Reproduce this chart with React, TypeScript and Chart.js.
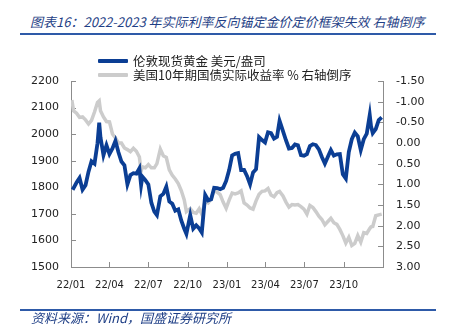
import React, { useEffect, useRef } from "react";
import { Chart, registerables } from "chart.js";

Chart.register(...registerables);

// ---- data ----
const dates: string[] = [
  "2022-01-03", "2022-01-07", "2022-01-14", "2022-01-21", "2022-01-28", "2022-02-04", "2022-02-11", "2022-02-18",
  "2022-02-25", "2022-03-04", "2022-03-08", "2022-03-11", "2022-03-18", "2022-03-25", "2022-04-01", "2022-04-08",
  "2022-04-15", "2022-04-22", "2022-04-29", "2022-05-06", "2022-05-13", "2022-05-20", "2022-05-27", "2022-06-03",
  "2022-06-10", "2022-06-14", "2022-06-17", "2022-06-24", "2022-07-01", "2022-07-08", "2022-07-15", "2022-07-21",
  "2022-07-29", "2022-08-05", "2022-08-12", "2022-08-19", "2022-08-26", "2022-09-02", "2022-09-09", "2022-09-16",
  "2022-09-23", "2022-09-28", "2022-10-07", "2022-10-14", "2022-10-21", "2022-10-28", "2022-11-03", "2022-11-11",
  "2022-11-18", "2022-11-25", "2022-12-02", "2022-12-09", "2022-12-16", "2022-12-23", "2022-12-30",
  "2023-01-06", "2023-01-13", "2023-01-20", "2023-01-27", "2023-02-03", "2023-02-10", "2023-02-17", "2023-02-24",
  "2023-03-03", "2023-03-10", "2023-03-17", "2023-03-24", "2023-03-31", "2023-04-07", "2023-04-14", "2023-04-21",
  "2023-04-28", "2023-05-04", "2023-05-12", "2023-05-19", "2023-05-26", "2023-06-02", "2023-06-09", "2023-06-16",
  "2023-06-23", "2023-06-30", "2023-07-07", "2023-07-14", "2023-07-21", "2023-07-28", "2023-08-04", "2023-08-11",
  "2023-08-18", "2023-08-25", "2023-09-01", "2023-09-08", "2023-09-15", "2023-09-22", "2023-09-29", "2023-10-06",
  "2023-10-13", "2023-10-20", "2023-10-27", "2023-11-03", "2023-11-10", "2023-11-17", "2023-11-24", "2023-12-01",
  "2023-12-04", "2023-12-08", "2023-12-15", "2023-12-22", "2023-12-29",
];

// London spot gold, USD/oz
const goldPrice: number[] = [
  1801, 1797, 1818, 1835, 1791, 1808, 1859, 1898,
  1889, 1966, 2043, 1988, 1921, 1958, 1925, 1946,
  1975, 1932, 1897, 1883, 1811, 1846, 1853, 1851,
  1871, 1808, 1840, 1827, 1811, 1742, 1708, 1695,
  1766, 1775, 1802, 1747, 1738, 1712, 1717, 1675,
  1644, 1625, 1695, 1644, 1657, 1645, 1630, 1771,
  1751, 1755, 1798, 1797, 1793, 1798, 1824,
  1865, 1920, 1926, 1929, 1865, 1865, 1842, 1811,
  1856, 1868, 1989, 1978, 1969, 2007, 2004, 1983,
  1990, 2050, 2011, 1977, 1946, 1948, 1961, 1958,
  1921, 1919, 1925, 1955, 1962, 1959, 1943, 1914,
  1889, 1915, 1940, 1919, 1924, 1925, 1849, 1833,
  1933, 1981, 2006, 1992, 1940, 1981, 2002, 2072,
  2030, 2004, 2019, 2053, 2063,
];

// US 10Y TIPS real yield, % (right axis, reversed)
const realYield: number[] = [
  -1.04, -0.78, -0.72, -0.62, -0.63, -0.56, -0.46, -0.55,
  -0.75, -0.98, -1.02, -0.78, -0.63, -0.52, -0.51, -0.22,
  -0.12, 0.0, 0.0, 0.12, 0.16, 0.21, 0.13, 0.2,
  0.34, 0.68, 0.58, 0.6, 0.52, 0.6, 0.6, 0.5,
  0.15, 0.31, 0.35, 0.65, 0.78, 0.87, 0.98, 1.15,
  1.38, 1.66, 1.59, 1.68, 1.7, 1.59, 1.72, 1.41,
  1.45, 1.35, 1.14, 1.19, 1.25, 1.43, 1.58,
  1.38, 1.21, 1.23, 1.21, 1.16, 1.45, 1.5, 1.57,
  1.6, 1.4, 1.24, 1.17, 1.16, 1.1, 1.26, 1.3,
  1.2, 1.17, 1.28, 1.43, 1.55, 1.49, 1.5, 1.49,
  1.54, 1.6, 1.72, 1.51, 1.56, 1.66, 1.77, 1.85,
  1.98, 1.9, 1.82, 1.93, 1.97, 2.09, 2.24, 2.42,
  2.28, 2.48, 2.43, 2.24, 2.4, 2.17, 2.19, 2.07,
  2.03, 2.02, 1.76, 1.74, 1.72,
];

const xTickDates: string[] = [
  "2022-01-01", "2022-04-01", "2022-07-01", "2022-10-01",
  "2023-01-01", "2023-04-01", "2023-07-01", "2023-10-01", "2024-01-01",
];
const xTickLabels: string[] = ["22/01", "22/04", "22/07", "22/10", "23/01", "23/04", "23/07", "23/10", ""];

const goldLabel = "伦敦现货黄金 美元/盎司";
const yieldLabel = "美国10年期国债实际收益率 % 右轴倒序";
const titleText = "图表16：2022-2023 年实际利率反向锚定金价定价框架失效 右轴倒序";
const sourceText = "资料来源：Wind，国盛证券研究所";

// ---- helpers ----
const ORIGIN = Date.UTC(2022, 0, 1);
const dayOf = (s: string) => {
  const [y, m, d] = s.split("-").map(Number);
  return (Date.UTC(y, m - 1, d) - ORIGIN) / 86400000;
};

const GOLD = "#0B3E94";
const GREY = "#CCCCCC";
const AXIS = "#8C8C8C";
const BLUE_TEXT = "#1F3F86";
const RULE = "#2E5AA8";
const TICK_FONT = "'DejaVu Sans', Verdana, sans-serif";
const CJK_FONT = "'Noto Sans CJK SC', 'DejaVu Sans', sans-serif";

const inwardTicks = {
  id: "inwardTicks",
  beforeDatasetsDraw(chart: any) {
    const { ctx, chartArea } = chart;
    const { left, right, bottom } = chartArea;
    const L = 5;
    ctx.save();
    ctx.strokeStyle = AXIS;
    ctx.lineWidth = 1;
    ctx.beginPath();
    const y = chart.scales.y;
    y.ticks.forEach((t: any) => {
      const p = Math.round(y.getPixelForValue(t.value)) + 0.5;
      ctx.moveTo(left, p);
      ctx.lineTo(left + L, p);
    });
    const y1 = chart.scales.y1;
    y1.ticks.forEach((t: any) => {
      const p = Math.round(y1.getPixelForValue(t.value)) + 0.5;
      ctx.moveTo(right, p);
      ctx.lineTo(right - L, p);
    });
    const x = chart.scales.x;
    x.ticks.forEach((t: any) => {
      const p = Math.round(x.getPixelForValue(t.value)) + 0.5;
      ctx.moveTo(p, bottom);
      ctx.lineTo(p, bottom - L);
    });
    ctx.stroke();
    ctx.restore();
  },
};

export default function App() {
  const canvasRef = useRef<HTMLCanvasElement | null>(null);

  useEffect(() => {
    const canvas = canvasRef.current;
    if (!canvas) return;
    const xs = dates.map(dayOf);
    const tickDays = xTickDates.map(dayOf);
    const chart = new Chart(canvas, {
      type: "line",
      data: {
        datasets: [
          {
            label: goldLabel,
            data: xs.map((x, i) => ({ x, y: goldPrice[i] })),
            borderColor: GOLD,
            borderWidth: 3.8,
            pointRadius: 0,
            tension: 0,
            yAxisID: "y",
            order: 0,
          },
          {
            label: yieldLabel,
            data: xs.map((x, i) => ({ x, y: realYield[i] })),
            borderColor: GREY,
            borderWidth: 3.5,
            pointRadius: 0,
            tension: 0,
            yAxisID: "y1",
            order: 1,
          },
        ],
      },
      options: {
        animation: false,
        responsive: false,
        maintainAspectRatio: false,
        layout: { padding: { top: 81, left: 0, right: 0, bottom: 0 } },
        plugins: { legend: { display: false }, tooltip: { enabled: false }, title: { display: false } },
        scales: {
          x: {
            type: "linear",
            min: tickDays[0],
            max: tickDays[tickDays.length - 1],
            afterBuildTicks: (scale: any) => {
              scale.ticks = tickDays.map((v) => ({ value: v }));
            },
            afterFit: (scale: any) => {
              scale.height = 58;
            },
            ticks: {
              autoSkip: false,
              maxRotation: 0,
              padding: 12,
              color: "#222",
              font: { family: TICK_FONT, size: 10 },
              callback: (v: any) => {
                const i = tickDays.indexOf(Number(v));
                return i >= 0 ? xTickLabels[i] : "";
              },
            },
            grid: { display: true, drawOnChartArea: false, drawTicks: false },
            border: { display: true, color: AXIS, width: 1 },
          },
          y: {
            position: "left",
            min: 1500,
            max: 2200,
            afterFit: (scale: any) => {
              scale.width = 71;
            },
            ticks: {
              stepSize: 100,
              padding: 12,
              color: "#222",
              font: { family: TICK_FONT, size: 11 },
              callback: (v: any) => String(Math.round(Number(v))),
            },
            grid: { display: true, drawOnChartArea: false, drawTicks: false },
            border: { display: true, color: AXIS, width: 1 },
          },
          y1: {
            position: "right",
            min: -1.5,
            max: 3,
            reverse: true,
            afterFit: (scale: any) => {
              scale.width = 67;
            },
            ticks: {
              stepSize: 0.5,
              padding: 13,
              color: "#222",
              font: { family: TICK_FONT, size: 11 },
              callback: (v: any) => Number(v).toFixed(2),
            },
            grid: { display: true, drawOnChartArea: false, drawTicks: false },
            border: { display: true, color: AXIS, width: 1 },
          },
        },
      },
      plugins: [inwardTicks],
    } as any);
    return () => chart.destroy();
  }, []);

  const legendRow = (top: number, color: string, text: string) => (
    <div style={{ position: "absolute", left: 98, top: top - 8, height: 16, display: "flex", alignItems: "center" }}>
      <div style={{ width: 30, height: 4, background: color, borderRadius: 1 }} />
      <span style={{ marginLeft: 5, fontFamily: CJK_FONT, fontSize: 12.5, color: "#222", whiteSpace: "nowrap", lineHeight: "16px" }}>
        {text}
      </span>
    </div>
  );

  return (
    <div style={{ position: "absolute", left: 0, top: 0, width: 450, height: 325, background: "#fff", overflow: "hidden" }}>
      <div
        style={{
          position: "absolute",
          left: 30,
          top: 13,
          fontFamily: CJK_FONT,
          fontStyle: "italic",
          fontSize: 13,
          lineHeight: "18px",
          color: BLUE_TEXT,
          whiteSpace: "nowrap",
        }}
      >
        {titleText}
      </div>
      <div style={{ position: "absolute", left: 20, top: 33, width: 416, height: 2, background: RULE }} />
      <canvas ref={canvasRef} width={450} height={325} style={{ position: "absolute", left: 0, top: 0, width: 450, height: 325 }} />
      {legendRow(61, GOLD, goldLabel)}
      {legendRow(75, GREY, yieldLabel)}
      <div style={{ position: "absolute", left: 20, top: 309, width: 416, height: 2, background: RULE }} />
      <div
        style={{
          position: "absolute",
          left: 31,
          top: 310,
          fontFamily: CJK_FONT,
          fontStyle: "italic",
          fontSize: 13,
          lineHeight: "16px",
          color: BLUE_TEXT,
          whiteSpace: "nowrap",
        }}
      >
        {sourceText}
      </div>
    </div>
  );
}
